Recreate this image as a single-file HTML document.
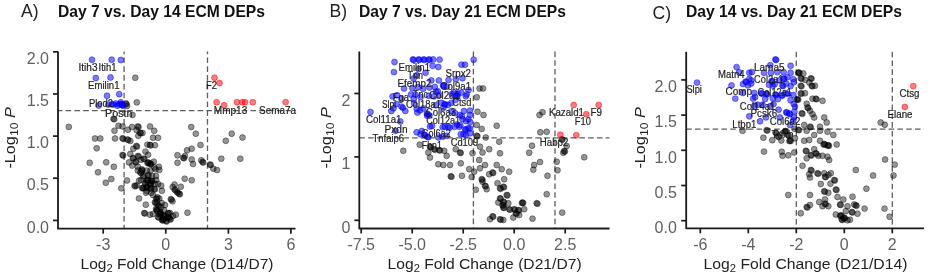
<!DOCTYPE html>
<html><head><meta charset="utf-8"><style>
html,body{margin:0;padding:0;background:#fff;}
svg{display:block;font-family:"Liberation Sans",sans-serif;filter:blur(0.35px);}
</style></head><body>
<svg width="929" height="276" viewBox="0 0 929 276">
<rect width="929" height="276" fill="#fff"/>
<line x1="124.1" y1="51.5" x2="124.1" y2="228.7" stroke="#5e5e5e" stroke-width="1.3" stroke-dasharray="5.6 3.2" stroke-dashoffset="2.8"/>
<line x1="207.5" y1="51.5" x2="207.5" y2="228.7" stroke="#5e5e5e" stroke-width="1.3" stroke-dasharray="5.6 3.2" stroke-dashoffset="2.8"/>
<line x1="58" y1="110.7" x2="295.5" y2="110.7" stroke="#5e5e5e" stroke-width="1.3" stroke-dasharray="5.6 3.2" stroke-dashoffset="1.2"/>
<g fill="#000" fill-opacity="0.42" stroke="#000" stroke-opacity="0.42" stroke-width="0.9"><circle cx="135.3" cy="77.8" r="2.95"/><circle cx="125.8" cy="103.5" r="2.95"/><circle cx="126.5" cy="104.0" r="2.95"/><circle cx="127.0" cy="106.0" r="2.95"/><circle cx="136.8" cy="102.4" r="2.95"/><circle cx="68.8" cy="126.9" r="2.95"/><circle cx="113.5" cy="118.8" r="2.95"/><circle cx="114.2" cy="119.3" r="2.95"/><circle cx="132.5" cy="115.0" r="2.95"/><circle cx="114.5" cy="130.7" r="2.95"/><circle cx="118.5" cy="125.8" r="2.95"/><circle cx="122.5" cy="126.5" r="2.95"/><circle cx="128.0" cy="129.7" r="2.95"/><circle cx="132.0" cy="127.0" r="2.95"/><circle cx="137.8" cy="126.5" r="2.95"/><circle cx="138.5" cy="127.0" r="2.95"/><circle cx="136.7" cy="130.0" r="2.95"/><circle cx="142.5" cy="133.0" r="2.95"/><circle cx="140.0" cy="132.7" r="2.95"/><circle cx="140.7" cy="133.2" r="2.95"/><circle cx="138.3" cy="135.8" r="2.95"/><circle cx="150.0" cy="126.5" r="2.95"/><circle cx="154.2" cy="130.8" r="2.95"/><circle cx="153.0" cy="137.8" r="2.95"/><circle cx="158.0" cy="137.8" r="2.95"/><circle cx="115.0" cy="138.5" r="2.95"/><circle cx="122.5" cy="138.3" r="2.95"/><circle cx="123.2" cy="138.8" r="2.95"/><circle cx="127.5" cy="139.5" r="2.95"/><circle cx="128.2" cy="140.0" r="2.95"/><circle cx="130.3" cy="141.0" r="2.95"/><circle cx="95.0" cy="138.5" r="2.95"/><circle cx="100.3" cy="138.5" r="2.95"/><circle cx="96.7" cy="148.3" r="2.95"/><circle cx="191.2" cy="127.0" r="2.95"/><circle cx="195.8" cy="133.7" r="2.95"/><circle cx="231.7" cy="133.7" r="2.95"/><circle cx="242.5" cy="137.5" r="2.95"/><circle cx="225.8" cy="140.8" r="2.95"/><circle cx="221.3" cy="158.7" r="2.95"/><circle cx="240.3" cy="158.7" r="2.95"/><circle cx="217.0" cy="170.0" r="2.95"/><circle cx="200.5" cy="145.0" r="2.95"/><circle cx="191.7" cy="148.7" r="2.95"/><circle cx="187.0" cy="150.3" r="2.95"/><circle cx="177.5" cy="155.3" r="2.95"/><circle cx="183.3" cy="157.8" r="2.95"/><circle cx="184.0" cy="158.3" r="2.95"/><circle cx="185.0" cy="156.0" r="2.95"/><circle cx="177.5" cy="162.8" r="2.95"/><circle cx="191.7" cy="159.5" r="2.95"/><circle cx="193.0" cy="164.0" r="2.95"/><circle cx="201.3" cy="160.3" r="2.95"/><circle cx="202.5" cy="162.0" r="2.95"/><circle cx="203.2" cy="162.5" r="2.95"/><circle cx="210.0" cy="164.5" r="2.95"/><circle cx="210.7" cy="165.0" r="2.95"/><circle cx="213.3" cy="168.7" r="2.95"/><circle cx="184.7" cy="178.7" r="2.95"/><circle cx="191.7" cy="180.3" r="2.95"/><circle cx="136.3" cy="146.0" r="2.95"/><circle cx="137.0" cy="146.5" r="2.95"/><circle cx="147.4" cy="144.6" r="2.95"/><circle cx="150.0" cy="144.9" r="2.95"/><circle cx="150.7" cy="145.4" r="2.95"/><circle cx="155.0" cy="145.2" r="2.95"/><circle cx="122.5" cy="155.0" r="2.95"/><circle cx="123.2" cy="155.5" r="2.95"/><circle cx="130.3" cy="154.0" r="2.95"/><circle cx="133.3" cy="148.7" r="2.95"/><circle cx="145.5" cy="151.6" r="2.95"/><circle cx="148.1" cy="154.8" r="2.95"/><circle cx="132.8" cy="158.0" r="2.95"/><circle cx="133.5" cy="158.5" r="2.95"/><circle cx="137.9" cy="156.0" r="2.95"/><circle cx="138.6" cy="156.5" r="2.95"/><circle cx="129.0" cy="162.4" r="2.95"/><circle cx="135.4" cy="161.7" r="2.95"/><circle cx="136.1" cy="162.2" r="2.95"/><circle cx="141.1" cy="159.8" r="2.95"/><circle cx="143.6" cy="158.6" r="2.95"/><circle cx="144.3" cy="159.1" r="2.95"/><circle cx="148.1" cy="162.4" r="2.95"/><circle cx="148.8" cy="162.9" r="2.95"/><circle cx="147.5" cy="163.0" r="2.95"/><circle cx="150.6" cy="163.6" r="2.95"/><circle cx="151.3" cy="164.1" r="2.95"/><circle cx="150.0" cy="164.2" r="2.95"/><circle cx="153.8" cy="161.7" r="2.95"/><circle cx="158.9" cy="166.8" r="2.95"/><circle cx="154.4" cy="167.5" r="2.95"/><circle cx="137.9" cy="166.8" r="2.95"/><circle cx="141.7" cy="169.4" r="2.95"/><circle cx="142.4" cy="169.9" r="2.95"/><circle cx="113.8" cy="166.8" r="2.95"/><circle cx="146.8" cy="170.6" r="2.95"/><circle cx="132.2" cy="165.6" r="2.95"/><circle cx="89.7" cy="162.8" r="2.95"/><circle cx="106.2" cy="162.3" r="2.95"/><circle cx="98.0" cy="172.3" r="2.95"/><circle cx="111.3" cy="179.0" r="2.95"/><circle cx="105.8" cy="182.8" r="2.95"/><circle cx="127.0" cy="180.5" r="2.95"/><circle cx="121.3" cy="188.3" r="2.95"/><circle cx="134.6" cy="185.8" r="2.95"/><circle cx="135.3" cy="186.3" r="2.95"/><circle cx="139.0" cy="180.7" r="2.95"/><circle cx="139.0" cy="198.5" r="2.95"/><circle cx="137.8" cy="170.5" r="2.95"/><circle cx="140.3" cy="172.4" r="2.95"/><circle cx="141.0" cy="172.9" r="2.95"/><circle cx="150.5" cy="170.5" r="2.95"/><circle cx="155.5" cy="169.3" r="2.95"/><circle cx="159.3" cy="169.9" r="2.95"/><circle cx="147.3" cy="180.0" r="2.95"/><circle cx="148.0" cy="180.5" r="2.95"/><circle cx="146.7" cy="180.6" r="2.95"/><circle cx="151.7" cy="180.7" r="2.95"/><circle cx="152.4" cy="181.2" r="2.95"/><circle cx="151.1" cy="181.3" r="2.95"/><circle cx="156.2" cy="180.0" r="2.95"/><circle cx="158.1" cy="183.9" r="2.95"/><circle cx="161.2" cy="185.8" r="2.95"/><circle cx="142.8" cy="187.7" r="2.95"/><circle cx="143.5" cy="188.2" r="2.95"/><circle cx="142.2" cy="188.3" r="2.95"/><circle cx="146.6" cy="187.0" r="2.95"/><circle cx="147.3" cy="187.5" r="2.95"/><circle cx="146.0" cy="187.6" r="2.95"/><circle cx="150.5" cy="188.3" r="2.95"/><circle cx="151.2" cy="188.8" r="2.95"/><circle cx="154.3" cy="188.9" r="2.95"/><circle cx="155.0" cy="189.4" r="2.95"/><circle cx="146.0" cy="192.7" r="2.95"/><circle cx="151.1" cy="192.7" r="2.95"/><circle cx="161.9" cy="190.8" r="2.95"/><circle cx="156.2" cy="198.5" r="2.95"/><circle cx="156.9" cy="199.0" r="2.95"/><circle cx="159.3" cy="198.5" r="2.95"/><circle cx="154.9" cy="202.3" r="2.95"/><circle cx="155.6" cy="202.8" r="2.95"/><circle cx="170.8" cy="199.1" r="2.95"/><circle cx="171.5" cy="199.6" r="2.95"/><circle cx="172.7" cy="187.0" r="2.95"/><circle cx="174.6" cy="189.6" r="2.95"/><circle cx="175.3" cy="190.1" r="2.95"/><circle cx="177.1" cy="192.1" r="2.95"/><circle cx="177.8" cy="192.6" r="2.95"/><circle cx="174.6" cy="184.5" r="2.95"/><circle cx="180.8" cy="186.7" r="2.95"/><circle cx="179.2" cy="193.8" r="2.95"/><circle cx="179.9" cy="194.3" r="2.95"/><circle cx="172.5" cy="201.3" r="2.95"/><circle cx="145.8" cy="204.7" r="2.95"/><circle cx="157.5" cy="197.2" r="2.95"/><circle cx="158.3" cy="205.5" r="2.95"/><circle cx="159.0" cy="206.0" r="2.95"/><circle cx="161.7" cy="203.0" r="2.95"/><circle cx="144.2" cy="213.0" r="2.95"/><circle cx="144.9" cy="213.5" r="2.95"/><circle cx="150.0" cy="214.7" r="2.95"/><circle cx="156.7" cy="210.5" r="2.95"/><circle cx="157.4" cy="211.0" r="2.95"/><circle cx="160.0" cy="213.8" r="2.95"/><circle cx="160.7" cy="214.3" r="2.95"/><circle cx="159.4" cy="214.4" r="2.95"/><circle cx="164.2" cy="215.5" r="2.95"/><circle cx="164.9" cy="216.0" r="2.95"/><circle cx="163.6" cy="216.1" r="2.95"/><circle cx="163.3" cy="218.8" r="2.95"/><circle cx="164.0" cy="219.3" r="2.95"/><circle cx="162.7" cy="219.4" r="2.95"/><circle cx="168.3" cy="217.2" r="2.95"/><circle cx="169.0" cy="217.7" r="2.95"/><circle cx="167.7" cy="217.8" r="2.95"/><circle cx="170.0" cy="213.0" r="2.95"/><circle cx="175.8" cy="214.7" r="2.95"/><circle cx="187.5" cy="212.7" r="2.95"/><circle cx="136.7" cy="185.5" r="2.95"/><circle cx="150.8" cy="185.0" r="2.95"/><circle cx="156.0" cy="209.0" r="2.95"/><circle cx="156.7" cy="209.5" r="2.95"/><circle cx="160.0" cy="212.0" r="2.95"/><circle cx="160.7" cy="212.5" r="2.95"/><circle cx="164.0" cy="210.0" r="2.95"/><circle cx="168.0" cy="213.0" r="2.95"/><circle cx="168.7" cy="213.5" r="2.95"/><circle cx="158.0" cy="217.0" r="2.95"/><circle cx="158.7" cy="217.5" r="2.95"/><circle cx="162.0" cy="220.0" r="2.95"/><circle cx="162.7" cy="220.5" r="2.95"/><circle cx="166.0" cy="221.0" r="2.95"/><circle cx="166.7" cy="221.5" r="2.95"/><circle cx="170.0" cy="219.0" r="2.95"/><circle cx="170.7" cy="219.5" r="2.95"/><circle cx="173.0" cy="216.0" r="2.95"/><circle cx="153.0" cy="214.0" r="2.95"/><circle cx="157.0" cy="203.0" r="2.95"/><circle cx="161.0" cy="207.0" r="2.95"/><circle cx="165.0" cy="205.0" r="2.95"/><circle cx="143.0" cy="176.0" r="2.95"/><circle cx="143.7" cy="176.5" r="2.95"/><circle cx="148.0" cy="175.0" r="2.95"/><circle cx="148.7" cy="175.5" r="2.95"/><circle cx="152.0" cy="176.0" r="2.95"/><circle cx="156.0" cy="176.0" r="2.95"/><circle cx="145.0" cy="183.0" r="2.95"/><circle cx="145.7" cy="183.5" r="2.95"/><circle cx="150.0" cy="183.0" r="2.95"/><circle cx="150.7" cy="183.5" r="2.95"/><circle cx="155.0" cy="184.0" r="2.95"/><circle cx="141.0" cy="180.0" r="2.95"/><circle cx="147.0" cy="191.0" r="2.95"/><circle cx="153.0" cy="195.0" r="2.95"/><circle cx="142.0" cy="171.0" r="2.95"/></g>
<g fill="#0000ff" fill-opacity="0.52" stroke="#0000ff" stroke-opacity="0.52" stroke-width="0.9"><circle cx="92.0" cy="59.7" r="2.95"/><circle cx="111.7" cy="59.7" r="2.95"/><circle cx="120.8" cy="60.0" r="2.95"/><circle cx="95.8" cy="78.0" r="2.95"/><circle cx="110.5" cy="77.5" r="2.95"/><circle cx="107.0" cy="95.8" r="2.95"/><circle cx="119.2" cy="94.2" r="2.95"/><circle cx="98.7" cy="105.5" r="2.95"/><circle cx="111.7" cy="104.3" r="2.95"/><circle cx="115.8" cy="103.5" r="2.95"/><circle cx="120.8" cy="102.3" r="2.95"/><circle cx="122.5" cy="105.2" r="2.95"/><circle cx="123.2" cy="105.7" r="2.95"/><circle cx="117.5" cy="105.7" r="2.95"/><circle cx="108.3" cy="104.6" r="2.95"/><circle cx="113.4" cy="104.6" r="2.95"/><circle cx="119.0" cy="104.3" r="2.95"/><circle cx="121.2" cy="104.0" r="2.95"/><circle cx="121.9" cy="104.5" r="2.95"/></g>
<g fill="#ff0000" fill-opacity="0.52" stroke="#ff0000" stroke-opacity="0.52" stroke-width="0.9"><circle cx="214.5" cy="77.7" r="2.95"/><circle cx="219.5" cy="83.0" r="2.95"/><circle cx="216.6" cy="102.2" r="2.95"/><circle cx="224.1" cy="105.3" r="2.95"/><circle cx="237.0" cy="102.2" r="2.95"/><circle cx="242.3" cy="102.2" r="2.95"/><circle cx="245.0" cy="102.2" r="2.95"/><circle cx="252.8" cy="102.2" r="2.95"/><circle cx="285.6" cy="102.1" r="2.95"/></g>
<text x="78.5" y="70.5" font-size="10" fill="#1e1e1e" stroke="#1e1e1e" stroke-width="0.2" textLength="19" lengthAdjust="spacingAndGlyphs">Itih3</text>
<text x="98.5" y="70.5" font-size="10" fill="#1e1e1e" stroke="#1e1e1e" stroke-width="0.2" textLength="18" lengthAdjust="spacingAndGlyphs">Itih1</text>
<text x="88" y="88.7" font-size="10" fill="#1e1e1e" stroke="#1e1e1e" stroke-width="0.2" textLength="31.5" lengthAdjust="spacingAndGlyphs">Emilin1</text>
<text x="89" y="107.4" font-size="10" fill="#1e1e1e" stroke="#1e1e1e" stroke-width="0.2" textLength="24" lengthAdjust="spacingAndGlyphs">Plod2</text>
<text x="105" y="117" font-size="10" fill="#1e1e1e" stroke="#1e1e1e" stroke-width="0.2" textLength="27.5" lengthAdjust="spacingAndGlyphs">Postn</text>
<text x="206" y="89" font-size="10" fill="#1e1e1e" stroke="#1e1e1e" stroke-width="0.2" textLength="11" lengthAdjust="spacingAndGlyphs">F2</text>
<text x="213.8" y="113.6" font-size="10" fill="#1e1e1e" stroke="#1e1e1e" stroke-width="0.2" textLength="33.5" lengthAdjust="spacingAndGlyphs">Mmp13</text>
<text x="259" y="113.6" font-size="10" fill="#1e1e1e" stroke="#1e1e1e" stroke-width="0.2" textLength="37" lengthAdjust="spacingAndGlyphs">Sema7a</text>
<path d="M58 51.5 L58 228.7 L295.5 228.7" fill="none" stroke="#1a1a1a" stroke-width="1.8" stroke-linejoin="round"/>
<line x1="53" y1="220.4" x2="58" y2="220.4" stroke="#1a1a1a" stroke-width="1.7"/>
<text x="49" y="232.6" font-size="16" fill="#606060" text-anchor="end">0.0</text>
<line x1="53" y1="178.2" x2="58" y2="178.2" stroke="#1a1a1a" stroke-width="1.7"/>
<text x="49" y="190.4" font-size="16" fill="#606060" text-anchor="end">0.5</text>
<line x1="53" y1="136.1" x2="58" y2="136.1" stroke="#1a1a1a" stroke-width="1.7"/>
<text x="49" y="148.3" font-size="16" fill="#606060" text-anchor="end">1.0</text>
<line x1="53" y1="94.0" x2="58" y2="94.0" stroke="#1a1a1a" stroke-width="1.7"/>
<text x="49" y="106.2" font-size="16" fill="#606060" text-anchor="end">1.5</text>
<line x1="53" y1="51.8" x2="58" y2="51.8" stroke="#1a1a1a" stroke-width="1.7"/>
<text x="49" y="64.0" font-size="16" fill="#606060" text-anchor="end">2.0</text>
<line x1="103.2" y1="228.7" x2="103.2" y2="233.7" stroke="#1a1a1a" stroke-width="1.7"/>
<text x="103.2" y="249.6" font-size="16" fill="#606060" text-anchor="middle">-3</text>
<line x1="165.8" y1="228.7" x2="165.8" y2="233.7" stroke="#1a1a1a" stroke-width="1.7"/>
<text x="165.8" y="249.6" font-size="16" fill="#606060" text-anchor="middle">0</text>
<line x1="228.4" y1="228.7" x2="228.4" y2="233.7" stroke="#1a1a1a" stroke-width="1.7"/>
<text x="228.4" y="249.6" font-size="16" fill="#606060" text-anchor="middle">3</text>
<line x1="290.9" y1="228.7" x2="290.9" y2="233.7" stroke="#1a1a1a" stroke-width="1.7"/>
<text x="290.9" y="249.6" font-size="16" fill="#606060" text-anchor="middle">6</text>
<text x="80.5" y="269.2" font-size="15.4" fill="#222" textLength="193" lengthAdjust="spacingAndGlyphs">Log<tspan font-size="11" dy="3">2</tspan><tspan dy="-3"> Fold Change (D14/D7)</tspan></text>
<text transform="translate(14.6,168.6) rotate(-90)" x="0" y="0" font-size="14.6" fill="#222" textLength="61.5" lengthAdjust="spacingAndGlyphs">-Log<tspan font-size="11" dy="3">10</tspan><tspan dy="-3"> </tspan><tspan font-style="italic">P</tspan></text>
<text x="21" y="17.3" font-size="17.6" fill="#222">A)</text>
<text x="58" y="16.7" font-size="15.9" font-weight="bold" fill="#111" textLength="207" lengthAdjust="spacingAndGlyphs">Day 7 vs. Day 14 ECM DEPs</text>
<line x1="473.4" y1="51.4" x2="473.4" y2="228.5" stroke="#5e5e5e" stroke-width="1.3" stroke-dasharray="5.6 3.2" stroke-dashoffset="0"/>
<line x1="555.0" y1="51.4" x2="555.0" y2="228.5" stroke="#5e5e5e" stroke-width="1.3" stroke-dasharray="5.6 3.2" stroke-dashoffset="0"/>
<line x1="359.3" y1="137.8" x2="609.5" y2="137.8" stroke="#5e5e5e" stroke-width="1.3" stroke-dasharray="5.6 3.2" stroke-dashoffset="0"/>
<g fill="#000" fill-opacity="0.42" stroke="#000" stroke-opacity="0.42" stroke-width="0.9"><circle cx="479.5" cy="88.5" r="2.95"/><circle cx="483.0" cy="88.5" r="2.95"/><circle cx="476.8" cy="97.3" r="2.95"/><circle cx="477.5" cy="111.7" r="2.95"/><circle cx="483.5" cy="115.0" r="2.95"/><circle cx="476.7" cy="125.0" r="2.95"/><circle cx="496.7" cy="125.8" r="2.95"/><circle cx="481.7" cy="128.9" r="2.95"/><circle cx="476.7" cy="135.8" r="2.95"/><circle cx="477.4" cy="136.3" r="2.95"/><circle cx="485.8" cy="137.5" r="2.95"/><circle cx="499.2" cy="141.7" r="2.95"/><circle cx="430.0" cy="146.7" r="2.95"/><circle cx="430.7" cy="147.2" r="2.95"/><circle cx="434.2" cy="149.2" r="2.95"/><circle cx="434.9" cy="149.7" r="2.95"/><circle cx="439.2" cy="150.0" r="2.95"/><circle cx="439.9" cy="150.5" r="2.95"/><circle cx="444.2" cy="150.8" r="2.95"/><circle cx="428.3" cy="152.5" r="2.95"/><circle cx="430.0" cy="157.5" r="2.95"/><circle cx="446.7" cy="155.8" r="2.95"/><circle cx="455.8" cy="149.2" r="2.95"/><circle cx="460.0" cy="152.5" r="2.95"/><circle cx="460.7" cy="153.0" r="2.95"/><circle cx="472.5" cy="153.3" r="2.95"/><circle cx="480.0" cy="146.7" r="2.95"/><circle cx="482.5" cy="152.5" r="2.95"/><circle cx="489.2" cy="149.2" r="2.95"/><circle cx="500.0" cy="153.3" r="2.95"/><circle cx="479.2" cy="160.0" r="2.95"/><circle cx="460.8" cy="163.3" r="2.95"/><circle cx="438.3" cy="164.2" r="2.95"/><circle cx="443.3" cy="165.0" r="2.95"/><circle cx="450.0" cy="165.0" r="2.95"/><circle cx="469.2" cy="169.2" r="2.95"/><circle cx="485.0" cy="165.0" r="2.95"/><circle cx="496.7" cy="165.0" r="2.95"/><circle cx="501.7" cy="169.2" r="2.95"/><circle cx="419.7" cy="144.7" r="2.95"/><circle cx="403.3" cy="150.8" r="2.95"/><circle cx="450.8" cy="176.3" r="2.95"/><circle cx="451.5" cy="176.8" r="2.95"/><circle cx="462.0" cy="175.8" r="2.95"/><circle cx="471.7" cy="177.0" r="2.95"/><circle cx="474.2" cy="171.7" r="2.95"/><circle cx="480.0" cy="168.3" r="2.95"/><circle cx="481.7" cy="179.2" r="2.95"/><circle cx="482.4" cy="179.7" r="2.95"/><circle cx="482.5" cy="181.7" r="2.95"/><circle cx="489.2" cy="174.2" r="2.95"/><circle cx="492.5" cy="172.5" r="2.95"/><circle cx="493.2" cy="173.0" r="2.95"/><circle cx="504.2" cy="179.2" r="2.95"/><circle cx="485.0" cy="185.8" r="2.95"/><circle cx="485.7" cy="186.3" r="2.95"/><circle cx="486.7" cy="189.2" r="2.95"/><circle cx="475.8" cy="189.7" r="2.95"/><circle cx="497.5" cy="183.3" r="2.95"/><circle cx="500.0" cy="188.3" r="2.95"/><circle cx="500.7" cy="188.8" r="2.95"/><circle cx="503.3" cy="186.7" r="2.95"/><circle cx="504.0" cy="187.2" r="2.95"/><circle cx="500.0" cy="198.3" r="2.95"/><circle cx="500.7" cy="198.8" r="2.95"/><circle cx="503.3" cy="201.7" r="2.95"/><circle cx="504.0" cy="202.2" r="2.95"/><circle cx="498.3" cy="202.5" r="2.95"/><circle cx="503.3" cy="207.5" r="2.95"/><circle cx="504.0" cy="208.0" r="2.95"/><circle cx="509.2" cy="171.7" r="2.95"/><circle cx="506.7" cy="195.0" r="2.95"/><circle cx="507.4" cy="195.5" r="2.95"/><circle cx="508.3" cy="203.3" r="2.95"/><circle cx="522.5" cy="202.5" r="2.95"/><circle cx="523.2" cy="203.0" r="2.95"/><circle cx="521.9" cy="203.1" r="2.95"/><circle cx="536.7" cy="203.3" r="2.95"/><circle cx="537.4" cy="203.8" r="2.95"/><circle cx="534.2" cy="165.0" r="2.95"/><circle cx="540.0" cy="162.0" r="2.95"/><circle cx="533.3" cy="169.7" r="2.95"/><circle cx="547.5" cy="175.8" r="2.95"/><circle cx="546.7" cy="194.2" r="2.95"/><circle cx="556.7" cy="161.7" r="2.95"/><circle cx="557.5" cy="170.3" r="2.95"/><circle cx="502.5" cy="205.0" r="2.95"/><circle cx="503.2" cy="205.5" r="2.95"/><circle cx="509.2" cy="209.2" r="2.95"/><circle cx="509.9" cy="209.7" r="2.95"/><circle cx="514.2" cy="209.2" r="2.95"/><circle cx="514.9" cy="209.7" r="2.95"/><circle cx="518.3" cy="210.0" r="2.95"/><circle cx="519.0" cy="210.5" r="2.95"/><circle cx="515.8" cy="213.3" r="2.95"/><circle cx="516.5" cy="213.8" r="2.95"/><circle cx="519.2" cy="215.0" r="2.95"/><circle cx="524.2" cy="209.2" r="2.95"/><circle cx="513.3" cy="217.5" r="2.95"/><circle cx="490.0" cy="219.2" r="2.95"/><circle cx="492.5" cy="216.3" r="2.95"/><circle cx="493.2" cy="216.8" r="2.95"/><circle cx="500.0" cy="219.2" r="2.95"/><circle cx="500.7" cy="219.7" r="2.95"/><circle cx="503.3" cy="220.0" r="2.95"/><circle cx="532.5" cy="218.7" r="2.95"/><circle cx="540.3" cy="132.3" r="2.95"/><circle cx="546.7" cy="131.8" r="2.95"/><circle cx="561.7" cy="139.3" r="2.95"/><circle cx="562.4" cy="139.8" r="2.95"/><circle cx="566.7" cy="146.0" r="2.95"/><circle cx="564.2" cy="151.0" r="2.95"/><circle cx="564.9" cy="151.5" r="2.95"/><circle cx="563.3" cy="152.7" r="2.95"/><circle cx="532.0" cy="145.7" r="2.95"/><circle cx="529.2" cy="152.7" r="2.95"/><circle cx="584.2" cy="157.3" r="2.95"/><circle cx="539.5" cy="115.0" r="2.95"/><circle cx="542.5" cy="112.2" r="2.95"/><circle cx="562.2" cy="212.6" r="2.95"/></g>
<g fill="#0000ff" fill-opacity="0.52" stroke="#0000ff" stroke-opacity="0.52" stroke-width="0.9"><circle cx="370.5" cy="112.0" r="2.95"/><circle cx="394.5" cy="62.0" r="2.95"/><circle cx="393.9" cy="72.1" r="2.95"/><circle cx="412.9" cy="59.4" r="2.95"/><circle cx="413.6" cy="59.9" r="2.95"/><circle cx="418.6" cy="59.4" r="2.95"/><circle cx="419.3" cy="59.9" r="2.95"/><circle cx="423.7" cy="59.4" r="2.95"/><circle cx="424.4" cy="59.9" r="2.95"/><circle cx="428.8" cy="59.4" r="2.95"/><circle cx="429.5" cy="59.9" r="2.95"/><circle cx="433.2" cy="59.4" r="2.95"/><circle cx="439.6" cy="59.6" r="2.95"/><circle cx="438.3" cy="67.0" r="2.95"/><circle cx="432.6" cy="65.8" r="2.95"/><circle cx="418.6" cy="69.0" r="2.95"/><circle cx="425.6" cy="72.8" r="2.95"/><circle cx="413.6" cy="78.5" r="2.95"/><circle cx="416.7" cy="75.3" r="2.95"/><circle cx="431.3" cy="80.4" r="2.95"/><circle cx="438.9" cy="80.4" r="2.95"/><circle cx="404.0" cy="88.5" r="2.95"/><circle cx="412.3" cy="88.0" r="2.95"/><circle cx="418.0" cy="87.0" r="2.95"/><circle cx="423.1" cy="88.8" r="2.95"/><circle cx="429.4" cy="87.5" r="2.95"/><circle cx="434.8" cy="87.0" r="2.95"/><circle cx="437.7" cy="91.3" r="2.95"/><circle cx="392.6" cy="96.4" r="2.95"/><circle cx="397.1" cy="95.2" r="2.95"/><circle cx="401.5" cy="99.0" r="2.95"/><circle cx="411.0" cy="94.5" r="2.95"/><circle cx="415.5" cy="94.5" r="2.95"/><circle cx="420.5" cy="97.1" r="2.95"/><circle cx="428.8" cy="95.8" r="2.95"/><circle cx="433.9" cy="96.4" r="2.95"/><circle cx="439.6" cy="95.2" r="2.95"/><circle cx="401.5" cy="106.6" r="2.95"/><circle cx="402.8" cy="107.8" r="2.95"/><circle cx="396.4" cy="104.0" r="2.95"/><circle cx="391.3" cy="111.0" r="2.95"/><circle cx="405.3" cy="111.0" r="2.95"/><circle cx="416.7" cy="109.1" r="2.95"/><circle cx="419.9" cy="110.4" r="2.95"/><circle cx="423.1" cy="108.5" r="2.95"/><circle cx="426.9" cy="113.6" r="2.95"/><circle cx="427.6" cy="114.1" r="2.95"/><circle cx="429.4" cy="115.5" r="2.95"/><circle cx="441.5" cy="102.8" r="2.95"/><circle cx="435.8" cy="105.3" r="2.95"/><circle cx="443.4" cy="107.8" r="2.95"/><circle cx="414.2" cy="103.4" r="2.95"/><circle cx="417.4" cy="112.6" r="2.95"/><circle cx="400.3" cy="121.5" r="2.95"/><circle cx="416.7" cy="132.3" r="2.95"/><circle cx="421.8" cy="131.0" r="2.95"/><circle cx="424.3" cy="134.8" r="2.95"/><circle cx="425.0" cy="135.3" r="2.95"/><circle cx="427.5" cy="136.7" r="2.95"/><circle cx="428.2" cy="137.2" r="2.95"/><circle cx="432.0" cy="126.0" r="2.95"/><circle cx="442.7" cy="127.2" r="2.95"/><circle cx="438.3" cy="137.4" r="2.95"/><circle cx="442.7" cy="136.7" r="2.95"/><circle cx="461.5" cy="64.7" r="2.95"/><circle cx="465.0" cy="64.7" r="2.95"/><circle cx="473.7" cy="59.7" r="2.95"/><circle cx="455.8" cy="79.2" r="2.95"/><circle cx="462.5" cy="78.3" r="2.95"/><circle cx="446.7" cy="86.7" r="2.95"/><circle cx="448.5" cy="80.0" r="2.95"/><circle cx="443.0" cy="85.4" r="2.95"/><circle cx="443.7" cy="85.9" r="2.95"/><circle cx="468.5" cy="89.9" r="2.95"/><circle cx="466.7" cy="94.4" r="2.95"/><circle cx="461.2" cy="92.6" r="2.95"/><circle cx="435.9" cy="91.7" r="2.95"/><circle cx="465.8" cy="96.3" r="2.95"/><circle cx="456.7" cy="95.8" r="2.95"/><circle cx="457.4" cy="96.3" r="2.95"/><circle cx="451.7" cy="94.2" r="2.95"/><circle cx="444.5" cy="104.1" r="2.95"/><circle cx="445.2" cy="104.6" r="2.95"/><circle cx="448.0" cy="104.8" r="2.95"/><circle cx="464.0" cy="111.0" r="2.95"/><circle cx="470.0" cy="110.6" r="2.95"/><circle cx="460.0" cy="115.0" r="2.95"/><circle cx="468.3" cy="119.2" r="2.95"/><circle cx="470.0" cy="115.0" r="2.95"/><circle cx="462.5" cy="119.2" r="2.95"/><circle cx="461.9" cy="116.2" r="2.95"/><circle cx="466.0" cy="121.1" r="2.95"/><circle cx="470.0" cy="121.9" r="2.95"/><circle cx="460.3" cy="125.2" r="2.95"/><circle cx="465.2" cy="129.3" r="2.95"/><circle cx="465.9" cy="129.8" r="2.95"/><circle cx="470.0" cy="128.4" r="2.95"/><circle cx="444.8" cy="126.8" r="2.95"/><circle cx="449.7" cy="127.6" r="2.95"/><circle cx="454.6" cy="126.8" r="2.95"/><circle cx="457.0" cy="124.4" r="2.95"/><circle cx="470.0" cy="133.3" r="2.95"/><circle cx="463.5" cy="134.2" r="2.95"/><circle cx="430.0" cy="126.5" r="2.95"/><circle cx="448.3" cy="126.7" r="2.95"/><circle cx="459.2" cy="126.7" r="2.95"/><circle cx="468.3" cy="128.3" r="2.95"/><circle cx="460.8" cy="134.2" r="2.95"/><circle cx="465.8" cy="135.0" r="2.95"/><circle cx="446.7" cy="135.8" r="2.95"/><circle cx="451.3" cy="102.9" r="2.95"/><circle cx="455.7" cy="99.8" r="2.95"/><circle cx="453.8" cy="92.2" r="2.95"/><circle cx="457.6" cy="93.4" r="2.95"/><circle cx="451.3" cy="111.2" r="2.95"/><circle cx="455.1" cy="113.1" r="2.95"/><circle cx="395.5" cy="130.8" r="2.95"/><circle cx="420.5" cy="134.2" r="2.95"/><circle cx="427.2" cy="115.8" r="2.95"/><circle cx="393.5" cy="108.3" r="2.95"/><circle cx="413.8" cy="98.8" r="2.95"/></g>
<g fill="#ff0000" fill-opacity="0.52" stroke="#ff0000" stroke-opacity="0.52" stroke-width="0.9"><circle cx="573.7" cy="105.0" r="2.95"/><circle cx="598.7" cy="105.0" r="2.95"/><circle cx="586.3" cy="114.2" r="2.95"/><circle cx="560.3" cy="134.7" r="2.95"/><circle cx="576.3" cy="135.2" r="2.95"/></g>
<text x="398.5" y="71.2" font-size="10" fill="#1e1e1e" stroke="#1e1e1e" stroke-width="0.2" textLength="31.5" lengthAdjust="spacingAndGlyphs">Emilin1</text>
<text x="407.5" y="79.4" font-size="10" fill="#1e1e1e" stroke="#1e1e1e" stroke-width="0.2" textLength="15.5" lengthAdjust="spacingAndGlyphs">Tnn</text>
<text x="397.5" y="86.7" font-size="10" fill="#1e1e1e" stroke="#1e1e1e" stroke-width="0.2" textLength="34" lengthAdjust="spacingAndGlyphs">Efemp2</text>
<text x="445.5" y="76.5" font-size="10" fill="#1e1e1e" stroke="#1e1e1e" stroke-width="0.2" textLength="25.5" lengthAdjust="spacingAndGlyphs">Srpx2</text>
<text x="440.5" y="90.2" font-size="10" fill="#1e1e1e" stroke="#1e1e1e" stroke-width="0.2" textLength="30.5" lengthAdjust="spacingAndGlyphs">Col9a1</text>
<text x="392.8" y="101.3" font-size="10" fill="#1e1e1e" stroke="#1e1e1e" stroke-width="0.2" textLength="16" lengthAdjust="spacingAndGlyphs">Fga</text>
<text x="413" y="98" font-size="10" fill="#1e1e1e" stroke="#1e1e1e" stroke-width="0.2" textLength="15" lengthAdjust="spacingAndGlyphs">Tnc</text>
<text x="429" y="99" font-size="10" fill="#1e1e1e" stroke="#1e1e1e" stroke-width="0.2" textLength="31" lengthAdjust="spacingAndGlyphs">Col2a1</text>
<text x="382" y="108.3" font-size="10" fill="#1e1e1e" stroke="#1e1e1e" stroke-width="0.2" textLength="14" lengthAdjust="spacingAndGlyphs">Slpi</text>
<text x="406" y="107.7" font-size="10" fill="#1e1e1e" stroke="#1e1e1e" stroke-width="0.2" textLength="35" lengthAdjust="spacingAndGlyphs">Col18a1</text>
<text x="452.3" y="106.4" font-size="10" fill="#1e1e1e" stroke="#1e1e1e" stroke-width="0.2" textLength="19" lengthAdjust="spacingAndGlyphs">Ctsd</text>
<text x="425.7" y="115.7" font-size="10" fill="#1e1e1e" stroke="#1e1e1e" stroke-width="0.2" textLength="30.5" lengthAdjust="spacingAndGlyphs">Col6a3</text>
<text x="366" y="122.5" font-size="10" fill="#1e1e1e" stroke="#1e1e1e" stroke-width="0.2" textLength="35.5" lengthAdjust="spacingAndGlyphs">Col11a1</text>
<text x="426.2" y="124.3" font-size="10" fill="#1e1e1e" stroke="#1e1e1e" stroke-width="0.2" textLength="34" lengthAdjust="spacingAndGlyphs">Col12a1</text>
<text x="384.5" y="132.5" font-size="10" fill="#1e1e1e" stroke="#1e1e1e" stroke-width="0.2" textLength="23" lengthAdjust="spacingAndGlyphs">Pxdn</text>
<text x="372.5" y="141.7" font-size="10" fill="#1e1e1e" stroke="#1e1e1e" stroke-width="0.2" textLength="31.5" lengthAdjust="spacingAndGlyphs">Tnfaip6</text>
<text x="421.8" y="137" font-size="10" fill="#1e1e1e" stroke="#1e1e1e" stroke-width="0.2" textLength="29" lengthAdjust="spacingAndGlyphs">Col6a2</text>
<text x="421.8" y="149.2" font-size="10" fill="#1e1e1e" stroke="#1e1e1e" stroke-width="0.2" textLength="20" lengthAdjust="spacingAndGlyphs">Fbn1</text>
<text x="450.7" y="145.5" font-size="10" fill="#1e1e1e" stroke="#1e1e1e" stroke-width="0.2" textLength="27.5" lengthAdjust="spacingAndGlyphs">Cd109</text>
<text x="549" y="115.8" font-size="10" fill="#1e1e1e" stroke="#1e1e1e" stroke-width="0.2" textLength="35" lengthAdjust="spacingAndGlyphs">Kazald1</text>
<text x="590.6" y="115.8" font-size="10" fill="#1e1e1e" stroke="#1e1e1e" stroke-width="0.2" textLength="11.5" lengthAdjust="spacingAndGlyphs">F9</text>
<text x="574.8" y="125" font-size="10" fill="#1e1e1e" stroke="#1e1e1e" stroke-width="0.2" textLength="16" lengthAdjust="spacingAndGlyphs">F10</text>
<text x="539.8" y="146" font-size="10" fill="#1e1e1e" stroke="#1e1e1e" stroke-width="0.2" textLength="28.5" lengthAdjust="spacingAndGlyphs">Habp2</text>
<path d="M359.3 51.4 L359.3 228.5 L609.5 228.5" fill="none" stroke="#1a1a1a" stroke-width="1.8" stroke-linejoin="round"/>
<line x1="354.3" y1="220.3" x2="359.3" y2="220.3" stroke="#1a1a1a" stroke-width="1.7"/>
<text x="350.3" y="232.5" font-size="16" fill="#606060" text-anchor="end">0</text>
<line x1="354.3" y1="156.9" x2="359.3" y2="156.9" stroke="#1a1a1a" stroke-width="1.7"/>
<text x="350.3" y="169.1" font-size="16" fill="#606060" text-anchor="end">1</text>
<line x1="354.3" y1="93.5" x2="359.3" y2="93.5" stroke="#1a1a1a" stroke-width="1.7"/>
<text x="350.3" y="105.7" font-size="16" fill="#606060" text-anchor="end">2</text>
<line x1="361.2" y1="228.5" x2="361.2" y2="233.5" stroke="#1a1a1a" stroke-width="1.7"/>
<text x="361.2" y="249.6" font-size="16" fill="#606060" text-anchor="middle">-7.5</text>
<line x1="412.2" y1="228.5" x2="412.2" y2="233.5" stroke="#1a1a1a" stroke-width="1.7"/>
<text x="412.2" y="249.6" font-size="16" fill="#606060" text-anchor="middle">-5.0</text>
<line x1="463.2" y1="228.5" x2="463.2" y2="233.5" stroke="#1a1a1a" stroke-width="1.7"/>
<text x="463.2" y="249.6" font-size="16" fill="#606060" text-anchor="middle">-2.5</text>
<line x1="514.2" y1="228.5" x2="514.2" y2="233.5" stroke="#1a1a1a" stroke-width="1.7"/>
<text x="514.2" y="249.6" font-size="16" fill="#606060" text-anchor="middle">0.0</text>
<line x1="565.2" y1="228.5" x2="565.2" y2="233.5" stroke="#1a1a1a" stroke-width="1.7"/>
<text x="565.2" y="249.6" font-size="16" fill="#606060" text-anchor="middle">2.5</text>
<text x="387.6" y="269.2" font-size="15.4" fill="#222" textLength="194" lengthAdjust="spacingAndGlyphs">Log<tspan font-size="11" dy="3">2</tspan><tspan dy="-3"> Fold Change (D21/D7)</tspan></text>
<text transform="translate(331.0,168.6) rotate(-90)" x="0" y="0" font-size="14.6" fill="#222" textLength="61.5" lengthAdjust="spacingAndGlyphs">-Log<tspan font-size="11" dy="3">10</tspan><tspan dy="-3"> </tspan><tspan font-style="italic">P</tspan></text>
<text x="329.5" y="17.3" font-size="17.6" fill="#222">B)</text>
<text x="359" y="16.7" font-size="15.9" font-weight="bold" fill="#111" textLength="207" lengthAdjust="spacingAndGlyphs">Day 7 vs. Day 21 ECM DEPs</text>
<line x1="796.3" y1="51.7" x2="796.3" y2="228.3" stroke="#5e5e5e" stroke-width="1.3" stroke-dasharray="5.6 3.2" stroke-dashoffset="0"/>
<line x1="892.3" y1="51.7" x2="892.3" y2="228.3" stroke="#5e5e5e" stroke-width="1.3" stroke-dasharray="5.6 3.2" stroke-dashoffset="0"/>
<line x1="686.2" y1="129.1" x2="924" y2="129.1" stroke="#5e5e5e" stroke-width="1.3" stroke-dasharray="5.6 3.2" stroke-dashoffset="0"/>
<g fill="#000" fill-opacity="0.42" stroke="#000" stroke-opacity="0.42" stroke-width="0.9"><circle cx="798.8" cy="72.4" r="2.95"/><circle cx="799.5" cy="72.9" r="2.95"/><circle cx="798.2" cy="73.0" r="2.95"/><circle cx="803.3" cy="73.5" r="2.95"/><circle cx="800.8" cy="78.3" r="2.95"/><circle cx="801.5" cy="78.8" r="2.95"/><circle cx="810.8" cy="78.3" r="2.95"/><circle cx="811.5" cy="78.8" r="2.95"/><circle cx="805.0" cy="79.8" r="2.95"/><circle cx="809.2" cy="82.5" r="2.95"/><circle cx="800.8" cy="85.8" r="2.95"/><circle cx="801.5" cy="86.3" r="2.95"/><circle cx="811.7" cy="85.8" r="2.95"/><circle cx="812.4" cy="86.3" r="2.95"/><circle cx="815.0" cy="85.8" r="2.95"/><circle cx="800.8" cy="93.3" r="2.95"/><circle cx="801.5" cy="93.8" r="2.95"/><circle cx="805.0" cy="93.3" r="2.95"/><circle cx="797.5" cy="99.2" r="2.95"/><circle cx="798.2" cy="99.7" r="2.95"/><circle cx="796.9" cy="99.8" r="2.95"/><circle cx="812.5" cy="98.7" r="2.95"/><circle cx="815.8" cy="98.7" r="2.95"/><circle cx="816.5" cy="99.2" r="2.95"/><circle cx="822.5" cy="100.8" r="2.95"/><circle cx="806.7" cy="103.7" r="2.95"/><circle cx="807.5" cy="107.5" r="2.95"/><circle cx="808.2" cy="108.0" r="2.95"/><circle cx="810.0" cy="110.8" r="2.95"/><circle cx="801.7" cy="113.3" r="2.95"/><circle cx="802.4" cy="113.8" r="2.95"/><circle cx="812.5" cy="114.2" r="2.95"/><circle cx="814.2" cy="117.5" r="2.95"/><circle cx="824.2" cy="117.5" r="2.95"/><circle cx="826.7" cy="122.5" r="2.95"/><circle cx="804.2" cy="125.0" r="2.95"/><circle cx="810.0" cy="126.7" r="2.95"/><circle cx="810.7" cy="127.2" r="2.95"/><circle cx="806.7" cy="130.8" r="2.95"/><circle cx="820.0" cy="126.7" r="2.95"/><circle cx="820.0" cy="130.8" r="2.95"/><circle cx="814.2" cy="135.0" r="2.95"/><circle cx="827.5" cy="131.7" r="2.95"/><circle cx="833.3" cy="135.0" r="2.95"/><circle cx="804.2" cy="140.8" r="2.95"/><circle cx="809.2" cy="140.0" r="2.95"/><circle cx="820.0" cy="140.8" r="2.95"/><circle cx="824.2" cy="144.0" r="2.95"/><circle cx="824.9" cy="144.5" r="2.95"/><circle cx="823.6" cy="144.6" r="2.95"/><circle cx="828.3" cy="145.2" r="2.95"/><circle cx="829.0" cy="145.7" r="2.95"/><circle cx="827.7" cy="145.8" r="2.95"/><circle cx="836.7" cy="144.5" r="2.95"/><circle cx="785.3" cy="131.0" r="2.95"/><circle cx="786.0" cy="131.5" r="2.95"/><circle cx="784.7" cy="131.6" r="2.95"/><circle cx="782.5" cy="133.3" r="2.95"/><circle cx="790.0" cy="140.5" r="2.95"/><circle cx="790.7" cy="141.0" r="2.95"/><circle cx="789.4" cy="141.1" r="2.95"/><circle cx="795.0" cy="138.3" r="2.95"/><circle cx="781.3" cy="140.5" r="2.95"/><circle cx="781.7" cy="151.7" r="2.95"/><circle cx="782.5" cy="155.8" r="2.95"/><circle cx="788.3" cy="155.3" r="2.95"/><circle cx="794.2" cy="152.5" r="2.95"/><circle cx="805.8" cy="150.8" r="2.95"/><circle cx="806.5" cy="151.3" r="2.95"/><circle cx="814.2" cy="149.2" r="2.95"/><circle cx="810.8" cy="155.0" r="2.95"/><circle cx="811.5" cy="155.5" r="2.95"/><circle cx="815.8" cy="153.3" r="2.95"/><circle cx="816.5" cy="153.8" r="2.95"/><circle cx="818.3" cy="155.8" r="2.95"/><circle cx="822.5" cy="155.8" r="2.95"/><circle cx="827.5" cy="156.7" r="2.95"/><circle cx="829.2" cy="160.0" r="2.95"/><circle cx="806.7" cy="158.3" r="2.95"/><circle cx="802.5" cy="165.8" r="2.95"/><circle cx="810.8" cy="170.0" r="2.95"/><circle cx="811.5" cy="170.5" r="2.95"/><circle cx="809.2" cy="174.2" r="2.95"/><circle cx="810.0" cy="177.5" r="2.95"/><circle cx="817.5" cy="173.3" r="2.95"/><circle cx="818.2" cy="173.8" r="2.95"/><circle cx="824.2" cy="173.3" r="2.95"/><circle cx="825.0" cy="176.7" r="2.95"/><circle cx="825.7" cy="177.2" r="2.95"/><circle cx="830.8" cy="173.3" r="2.95"/><circle cx="828.3" cy="175.0" r="2.95"/><circle cx="834.2" cy="180.0" r="2.95"/><circle cx="834.9" cy="180.5" r="2.95"/><circle cx="820.8" cy="184.0" r="2.95"/><circle cx="830.4" cy="183.7" r="2.95"/><circle cx="855.8" cy="170.0" r="2.95"/><circle cx="788.3" cy="195.0" r="2.95"/><circle cx="810.0" cy="195.0" r="2.95"/><circle cx="824.2" cy="191.2" r="2.95"/><circle cx="824.9" cy="191.7" r="2.95"/><circle cx="828.3" cy="192.8" r="2.95"/><circle cx="835.8" cy="189.5" r="2.95"/><circle cx="836.5" cy="190.0" r="2.95"/><circle cx="837.5" cy="197.0" r="2.95"/><circle cx="843.3" cy="199.5" r="2.95"/><circle cx="852.5" cy="196.7" r="2.95"/><circle cx="819.2" cy="202.0" r="2.95"/><circle cx="825.0" cy="199.5" r="2.95"/><circle cx="825.0" cy="203.7" r="2.95"/><circle cx="825.7" cy="204.2" r="2.95"/><circle cx="822.5" cy="206.2" r="2.95"/><circle cx="828.3" cy="206.2" r="2.95"/><circle cx="806.7" cy="207.0" r="2.95"/><circle cx="807.4" cy="207.5" r="2.95"/><circle cx="810.0" cy="205.0" r="2.95"/><circle cx="800.8" cy="213.3" r="2.95"/><circle cx="840.0" cy="204.5" r="2.95"/><circle cx="840.7" cy="205.0" r="2.95"/><circle cx="847.5" cy="206.2" r="2.95"/><circle cx="851.7" cy="212.0" r="2.95"/><circle cx="852.4" cy="212.5" r="2.95"/><circle cx="854.2" cy="204.5" r="2.95"/><circle cx="855.8" cy="205.3" r="2.95"/><circle cx="856.5" cy="205.8" r="2.95"/><circle cx="857.5" cy="213.7" r="2.95"/><circle cx="835.8" cy="214.5" r="2.95"/><circle cx="840.8" cy="215.3" r="2.95"/><circle cx="841.5" cy="215.8" r="2.95"/><circle cx="840.2" cy="215.9" r="2.95"/><circle cx="844.2" cy="217.8" r="2.95"/><circle cx="844.9" cy="218.3" r="2.95"/><circle cx="843.6" cy="218.4" r="2.95"/><circle cx="841.7" cy="219.5" r="2.95"/><circle cx="842.4" cy="220.0" r="2.95"/><circle cx="847.5" cy="220.3" r="2.95"/><circle cx="845.8" cy="211.2" r="2.95"/><circle cx="885.1" cy="159.5" r="2.95"/><circle cx="894.7" cy="164.6" r="2.95"/><circle cx="873.1" cy="175.5" r="2.95"/><circle cx="893.5" cy="175.5" r="2.95"/><circle cx="866.4" cy="188.7" r="2.95"/><circle cx="864.6" cy="208.6" r="2.95"/><circle cx="884.5" cy="208.6" r="2.95"/><circle cx="889.6" cy="216.7" r="2.95"/><circle cx="850.0" cy="219.7" r="2.95"/><circle cx="880.7" cy="122.5" r="2.95"/><circle cx="884.8" cy="124.7" r="2.95"/><circle cx="742.5" cy="130.8" r="2.95"/><circle cx="766.6" cy="130.1" r="2.95"/><circle cx="767.3" cy="130.6" r="2.95"/><circle cx="763.4" cy="137.7" r="2.95"/><circle cx="772.3" cy="140.2" r="2.95"/><circle cx="778.0" cy="136.4" r="2.95"/><circle cx="778.7" cy="136.9" r="2.95"/><circle cx="775.5" cy="132.6" r="2.95"/><circle cx="776.2" cy="133.1" r="2.95"/><circle cx="788.1" cy="135.2" r="2.95"/><circle cx="788.8" cy="135.7" r="2.95"/><circle cx="794.5" cy="128.8" r="2.95"/><circle cx="764.0" cy="151.6" r="2.95"/><circle cx="798.3" cy="129.7" r="2.95"/><circle cx="799.0" cy="130.2" r="2.95"/></g>
<g fill="#0000ff" fill-opacity="0.52" stroke="#0000ff" stroke-opacity="0.52" stroke-width="0.9"><circle cx="697.0" cy="82.6" r="2.95"/><circle cx="736.6" cy="67.1" r="2.95"/><circle cx="739.1" cy="72.2" r="2.95"/><circle cx="749.3" cy="72.7" r="2.95"/><circle cx="745.5" cy="81.6" r="2.95"/><circle cx="746.2" cy="82.1" r="2.95"/><circle cx="749.3" cy="79.0" r="2.95"/><circle cx="742.9" cy="84.1" r="2.95"/><circle cx="748.0" cy="85.4" r="2.95"/><circle cx="731.5" cy="85.4" r="2.95"/><circle cx="735.3" cy="98.6" r="2.95"/><circle cx="742.9" cy="93.0" r="2.95"/><circle cx="754.3" cy="93.0" r="2.95"/><circle cx="753.1" cy="98.6" r="2.95"/><circle cx="754.3" cy="105.7" r="2.95"/><circle cx="749.3" cy="116.3" r="2.95"/><circle cx="760.0" cy="121.3" r="2.95"/><circle cx="775.4" cy="59.4" r="2.95"/><circle cx="776.1" cy="59.9" r="2.95"/><circle cx="751.9" cy="72.1" r="2.95"/><circle cx="764.0" cy="72.8" r="2.95"/><circle cx="770.3" cy="65.2" r="2.95"/><circle cx="770.9" cy="72.8" r="2.95"/><circle cx="777.3" cy="72.1" r="2.95"/><circle cx="783.6" cy="72.1" r="2.95"/><circle cx="790.6" cy="65.8" r="2.95"/><circle cx="790.6" cy="72.8" r="2.95"/><circle cx="751.3" cy="80.4" r="2.95"/><circle cx="771.6" cy="81.0" r="2.95"/><circle cx="772.3" cy="81.5" r="2.95"/><circle cx="779.2" cy="80.4" r="2.95"/><circle cx="783.6" cy="78.5" r="2.95"/><circle cx="784.3" cy="79.0" r="2.95"/><circle cx="787.4" cy="77.2" r="2.95"/><circle cx="793.1" cy="79.1" r="2.95"/><circle cx="782.4" cy="85.5" r="2.95"/><circle cx="783.1" cy="86.0" r="2.95"/><circle cx="786.2" cy="83.6" r="2.95"/><circle cx="790.6" cy="86.1" r="2.95"/><circle cx="769.0" cy="84.8" r="2.95"/><circle cx="774.7" cy="84.2" r="2.95"/><circle cx="793.8" cy="82.3" r="2.95"/><circle cx="751.3" cy="83.6" r="2.95"/><circle cx="772.8" cy="85.6" r="2.95"/><circle cx="761.4" cy="93.2" r="2.95"/><circle cx="762.1" cy="93.7" r="2.95"/><circle cx="766.5" cy="93.9" r="2.95"/><circle cx="767.2" cy="94.4" r="2.95"/><circle cx="775.4" cy="94.5" r="2.95"/><circle cx="776.1" cy="95.0" r="2.95"/><circle cx="781.7" cy="95.2" r="2.95"/><circle cx="782.4" cy="95.7" r="2.95"/><circle cx="788.1" cy="93.9" r="2.95"/><circle cx="755.1" cy="97.1" r="2.95"/><circle cx="765.2" cy="99.0" r="2.95"/><circle cx="772.8" cy="98.3" r="2.95"/><circle cx="777.9" cy="99.0" r="2.95"/><circle cx="790.6" cy="100.2" r="2.95"/><circle cx="793.8" cy="104.0" r="2.95"/><circle cx="773.5" cy="104.0" r="2.95"/><circle cx="778.6" cy="109.7" r="2.95"/><circle cx="786.2" cy="112.3" r="2.95"/><circle cx="786.9" cy="112.8" r="2.95"/><circle cx="789.3" cy="113.6" r="2.95"/><circle cx="790.0" cy="114.1" r="2.95"/><circle cx="794.4" cy="111.6" r="2.95"/><circle cx="757.6" cy="104.7" r="2.95"/><circle cx="765.9" cy="117.4" r="2.95"/><circle cx="779.8" cy="117.4" r="2.95"/><circle cx="793.8" cy="117.4" r="2.95"/><circle cx="785.8" cy="93.3" r="2.95"/><circle cx="793.3" cy="95.0" r="2.95"/><circle cx="795.0" cy="106.7" r="2.95"/><circle cx="790.0" cy="125.0" r="2.95"/><circle cx="762.5" cy="104.7" r="2.95"/><circle cx="770.0" cy="106.3" r="2.95"/><circle cx="793.3" cy="120.5" r="2.95"/></g>
<g fill="#ff0000" fill-opacity="0.52" stroke="#ff0000" stroke-opacity="0.52" stroke-width="0.9"><circle cx="913.3" cy="86.1" r="2.95"/><circle cx="904.8" cy="107.0" r="2.95"/></g>
<text x="686.4" y="92.8" font-size="10" fill="#1e1e1e" stroke="#1e1e1e" stroke-width="0.2" textLength="15.5" lengthAdjust="spacingAndGlyphs">Slpi</text>
<text x="718" y="78" font-size="10" fill="#1e1e1e" stroke="#1e1e1e" stroke-width="0.2" textLength="26.5" lengthAdjust="spacingAndGlyphs">Matn4</text>
<text x="754" y="71" font-size="10" fill="#1e1e1e" stroke="#1e1e1e" stroke-width="0.2" textLength="30.5" lengthAdjust="spacingAndGlyphs">Lama5</text>
<text x="754" y="83.4" font-size="10" fill="#1e1e1e" stroke="#1e1e1e" stroke-width="0.2" textLength="29.5" lengthAdjust="spacingAndGlyphs">Col2a1</text>
<text x="725.6" y="95.4" font-size="10" fill="#1e1e1e" stroke="#1e1e1e" stroke-width="0.2" textLength="26.5" lengthAdjust="spacingAndGlyphs">Comp</text>
<text x="757.5" y="96" font-size="10" fill="#1e1e1e" stroke="#1e1e1e" stroke-width="0.2" textLength="34.5" lengthAdjust="spacingAndGlyphs">Col12a1</text>
<text x="739.8" y="109.6" font-size="10" fill="#1e1e1e" stroke="#1e1e1e" stroke-width="0.2" textLength="35.5" lengthAdjust="spacingAndGlyphs">Col14a1</text>
<text x="750.6" y="117.2" font-size="10" fill="#1e1e1e" stroke="#1e1e1e" stroke-width="0.2" textLength="26.5" lengthAdjust="spacingAndGlyphs">Pcsk6</text>
<text x="732.3" y="128.1" font-size="10" fill="#1e1e1e" stroke="#1e1e1e" stroke-width="0.2" textLength="24" lengthAdjust="spacingAndGlyphs">Ltbp1</text>
<text x="769.8" y="125.3" font-size="10" fill="#1e1e1e" stroke="#1e1e1e" stroke-width="0.2" textLength="30.5" lengthAdjust="spacingAndGlyphs">Col6a2</text>
<text x="771.5" y="137.5" font-size="10" fill="#1e1e1e" stroke="#1e1e1e" stroke-width="0.2" textLength="22" lengthAdjust="spacingAndGlyphs">Tnxb</text>
<text x="899.5" y="96.9" font-size="10" fill="#1e1e1e" stroke="#1e1e1e" stroke-width="0.2" textLength="20" lengthAdjust="spacingAndGlyphs">Ctsg</text>
<text x="887.5" y="118.3" font-size="10" fill="#1e1e1e" stroke="#1e1e1e" stroke-width="0.2" textLength="25" lengthAdjust="spacingAndGlyphs">Elane</text>
<path d="M686.2 51.7 L686.2 228.3 L924 228.3" fill="none" stroke="#1a1a1a" stroke-width="1.8" stroke-linejoin="round"/>
<line x1="681.2" y1="220.7" x2="686.2" y2="220.7" stroke="#1a1a1a" stroke-width="1.7"/>
<text x="676.8" y="232.9" font-size="16" fill="#606060" text-anchor="end">0.0</text>
<line x1="681.2" y1="185.5" x2="686.2" y2="185.5" stroke="#1a1a1a" stroke-width="1.7"/>
<text x="676.8" y="197.7" font-size="16" fill="#606060" text-anchor="end">0.5</text>
<line x1="681.2" y1="150.3" x2="686.2" y2="150.3" stroke="#1a1a1a" stroke-width="1.7"/>
<text x="676.8" y="162.5" font-size="16" fill="#606060" text-anchor="end">1.0</text>
<line x1="681.2" y1="115.1" x2="686.2" y2="115.1" stroke="#1a1a1a" stroke-width="1.7"/>
<text x="676.8" y="127.3" font-size="16" fill="#606060" text-anchor="end">1.5</text>
<line x1="681.2" y1="79.9" x2="686.2" y2="79.9" stroke="#1a1a1a" stroke-width="1.7"/>
<text x="676.8" y="92.1" font-size="16" fill="#606060" text-anchor="end">2.0</text>
<line x1="700.3" y1="228.3" x2="700.3" y2="233.3" stroke="#1a1a1a" stroke-width="1.7"/>
<text x="700.3" y="249.6" font-size="16" fill="#606060" text-anchor="middle">-6</text>
<line x1="748.3" y1="228.3" x2="748.3" y2="233.3" stroke="#1a1a1a" stroke-width="1.7"/>
<text x="748.3" y="249.6" font-size="16" fill="#606060" text-anchor="middle">-4</text>
<line x1="796.3" y1="228.3" x2="796.3" y2="233.3" stroke="#1a1a1a" stroke-width="1.7"/>
<text x="796.3" y="249.6" font-size="16" fill="#606060" text-anchor="middle">-2</text>
<line x1="844.3" y1="228.3" x2="844.3" y2="233.3" stroke="#1a1a1a" stroke-width="1.7"/>
<text x="844.3" y="249.6" font-size="16" fill="#606060" text-anchor="middle">0</text>
<line x1="892.3" y1="228.3" x2="892.3" y2="233.3" stroke="#1a1a1a" stroke-width="1.7"/>
<text x="892.3" y="249.6" font-size="16" fill="#606060" text-anchor="middle">2</text>
<text x="703.5" y="269.2" font-size="15.4" fill="#222" textLength="204" lengthAdjust="spacingAndGlyphs">Log<tspan font-size="11" dy="3">2</tspan><tspan dy="-3"> Fold Change (D21/D14)</tspan></text>
<text transform="translate(645.1,168.6) rotate(-90)" x="0" y="0" font-size="14.6" fill="#222" textLength="61.5" lengthAdjust="spacingAndGlyphs">-Log<tspan font-size="11" dy="3">10</tspan><tspan dy="-3"> </tspan><tspan font-style="italic">P</tspan></text>
<text x="652.6" y="18.9" font-size="17.6" fill="#222">C)</text>
<text x="686" y="16.7" font-size="15.9" font-weight="bold" fill="#111" textLength="216" lengthAdjust="spacingAndGlyphs">Day 14 vs. Day 21 ECM DEPs</text>
</svg>
</body></html>
